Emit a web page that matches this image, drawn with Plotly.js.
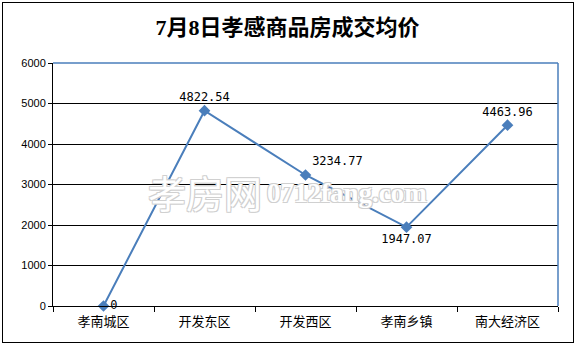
<!DOCTYPE html>
<html>
<head>
<meta charset="utf-8">
<script src="https://cdn.plot.ly/plotly-3.0.1.min.js"></script>
<style>
html,body{margin:0;padding:0;background:#fff;}
#wrap{position:relative;width:575px;height:344px;}
#chart{width:575px;height:344px;}
#frame{position:absolute;left:2px;top:2px;width:570px;height:339px;border:1px solid #000;pointer-events:none;}
</style>
</head>
<body>
<div id="wrap"><div id="chart"></div><div id="frame"></div></div>
<script>
const categories = ['孝南城区', '开发东区', '开发西区', '孝南乡镇', '南大经济区'];
const prices = [0, 4822.54, 3234.77, 1947.07, 4463.96];
const priceLabels = ['0', '4822.54', '3234.77', '1947.07', '4463.96'];
const labelPositions = ['middle right', 'top center', 'top right', 'bottom center', 'top center'];
const yTicks = [0, 1000, 2000, 3000, 4000, 5000, 6000];
const titleText = '7月8日孝感商品房成交均价';
const watermarkCn = '孝房网';
const watermarkEn = '0712fang.com';

const lineColor = '#4a7ebb';

const trace = {
  x: categories,
  y: prices,
  type: 'scatter',
  mode: 'lines+markers+text',
  line: {color: lineColor, width: 2},
  marker: {symbol: 'diamond', size: 9, color: lineColor},
  text: priceLabels,
  textposition: labelPositions,
  textfont: {family: 'DejaVu Sans Mono, Liberation Mono, monospace', size: 12, color: '#000'},
  cliponaxis: false,
  hoverinfo: 'none'
};

const layout = {
  width: 575, height: 344,
  margin: {l: 53, r: 17, t: 63, b: 38},
  paper_bgcolor: '#fff', plot_bgcolor: '#fff',
  showlegend: false,
  title: {
    text: '<b>' + titleText + '</b>',
    font: {family: 'Liberation Serif, Noto Sans CJK SC, serif', size: 22, color: '#000'},
    x: 0.5, xanchor: 'center', y: 1 - 27/344, yanchor: 'middle', yref: 'container'
  },
  xaxis: {
    type: 'category',
    range: [-0.5, 4.5],
    tickson: 'boundaries',
    ticks: 'outside', ticklen: 5, tickcolor: '#000', tickwidth: 1,
    ticklabelstandoff: 3,
    showline: true, linecolor: '#000', linewidth: 1,
    showgrid: false, zeroline: false,
    tickfont: {family: 'Noto Sans CJK SC, sans-serif', size: 13, color: '#000'},
    fixedrange: true
  },
  yaxis: {
    range: [0, 6000],
    tickvals: yTicks,
    ticktext: yTicks.map(String),
    ticks: 'outside', ticklen: 4, tickcolor: '#000',
    showline: true, linecolor: '#000', linewidth: 1,
    showgrid: true, gridcolor: '#000', gridwidth: 1,
    zeroline: false,
    tickfont: {family: 'Liberation Sans, Arial, sans-serif', size: 11, color: '#000'},
    fixedrange: true
  },
  shapes: [
    {type: 'line', xref: 'paper', yref: 'paper', x0: 0, x1: 1, y0: 1, y1: 1, line: {color: lineColor, width: 1.5}},
    {type: 'line', xref: 'paper', yref: 'paper', x0: 1, x1: 1, y0: 0, y1: 1, line: {color: lineColor, width: 1.5}}
  ],
  annotations: [
    {
      text: watermarkCn, xref: 'paper', yref: 'paper',
      x: (205 - 53) / 505, y: (306 - 191) / 243, xanchor: 'center', yanchor: 'middle', showarrow: false,
      font: {family: 'Noto Sans CJK SC, sans-serif', size: 38, color: '#ffffff',
             shadow: '1px 1px 0 #d0d0d0, -1px -1px 0 #d0d0d0, 1px -1px 0 #d0d0d0, -1px 1px 0 #d0d0d0'}
    },
    {
      text: '<b>' + watermarkEn + '</b>', xref: 'paper', yref: 'paper',
      x: (347 - 53) / 505, y: (306 - 193) / 243, xanchor: 'center', yanchor: 'middle', showarrow: false,
      font: {family: 'Liberation Serif, serif', size: 27, color: '#ffffff',
             shadow: '1px 1px 0 #d0d0d0, -1px -1px 0 #d0d0d0, 1px -1px 0 #d0d0d0, -1px 1px 0 #d0d0d0'}
    }
  ]
};

Plotly.newPlot('chart', [trace], layout, {displayModeBar: false, staticPlot: true});
</script>
</body>
</html>
